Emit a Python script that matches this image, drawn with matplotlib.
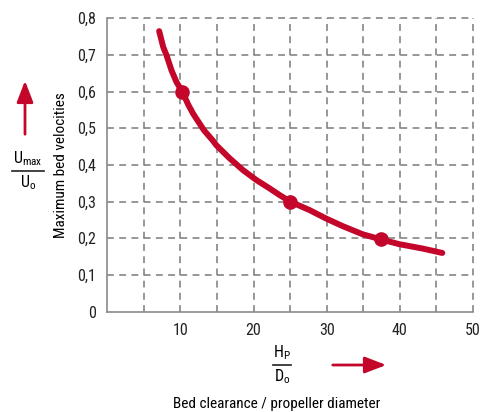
import matplotlib

matplotlib.use("Agg")
from matplotlib import pyplot as plt  # noqa: E402

# curve
clearance = [7.09, 7.64, 8.1, 8.78, 9.46, 10.28, 11.05, 11.73, 13.2,
             14.37, 14.9, 16.73, 18.55, 20.37, 22.19, 23.55, 25.0, 27.64,
             29.9, 32.2, 34.9, 37.4, 39.9, 43.1, 45.8]
velocity = [0.765, 0.722, 0.699, 0.658, 0.626, 0.599, 0.565, 0.540,
            0.495, 0.468, 0.454, 0.418, 0.386, 0.359, 0.336, 0.318, 0.30,
            0.277, 0.254, 0.233, 0.211, 0.197, 0.184, 0.172, 0.160]
point_x = [10.28, 25.0, 37.4]
point_y = [0.60, 0.30, 0.198]

x_ticks = [10, 20, 30, 40, 50]
x_grid = [5, 10, 15, 20, 25, 30, 35, 40, 45, 50]
y_ticks = [0, 0.1, 0.2, 0.3, 0.4, 0.5, 0.6, 0.7, 0.8]
y_labels = ["0", "0,1", "0,2", "0,3", "0,4", "0,5", "0,6", "0,7", "0,8"]

RED = "#c4062b"
GRID = "#7a7a7a"
plt.rcParams["font.family"] = ["Roboto Condensed", "Liberation Sans Narrow",
                               "Roboto", "DejaVu Sans"]
FS = 11.5

W, H = 495, 412
fig = plt.figure(figsize=(W / 100, H / 100), dpi=100)
ax = fig.add_axes([107.3 / W, 100.4 / H, 365.7 / W, 293.3 / H])

ax.plot(clearance, velocity, color=RED, lw=4.3, solid_capstyle="round",
        solid_joinstyle="round", zorder=3)
ax.plot(point_x, point_y, "o", color=RED, ms=9.5, zorder=4)

ax.set_xlim(0, 50)
ax.set_ylim(0, 0.8)
ax.set_xticks(x_ticks)
ax.set_yticks(y_ticks)
ax.set_yticklabels(y_labels)
ax.tick_params(which="both", length=0, labelsize=FS, colors="#222222")
ax.tick_params(axis="x", pad=8)
ax.tick_params(axis="y", pad=8)

# dashed grid, including the top and right edges
dash = (0, (4.5, 3.5))
for gx in x_grid:
    ax.axvline(gx, color=GRID, lw=1.1, linestyle=dash, clip_on=False, zorder=1)
for gy in y_ticks[1:]:
    ax.axhline(gy, color=GRID, lw=1.1, linestyle=dash, clip_on=False, zorder=1)
ax.spines["top"].set_visible(False)
ax.spines["right"].set_visible(False)
for side in ("left", "bottom"):
    ax.spines[side].set_color("#8a8a8a")
    ax.spines[side].set_linewidth(1.2)

ax.set_ylabel("Maximum bed velocities", fontsize=11)
ax.yaxis.set_label_coords(-0.108, 0.5)
fig.text(277 / W, 1 - 404 / H, "Bed clearance / propeller diameter",
         ha="center", va="center", fontsize=11)


# fraction symbols and arrows
def fraction(xc, yc, top, bottom, half):
    fig.text(xc / W, 1 - (yc - 12) / H, top, ha="center", va="center", fontsize=FS)
    fig.text(xc / W, 1 - (yc + 12) / H, bottom, ha="center", va="center", fontsize=FS)
    fig.add_artist(plt.Line2D([(xc - half) / W, (xc + half) / W],
                              [1 - yc / H, 1 - yc / H], color="#222222", lw=1.2))


fraction(28, 171, r"$\mathregular{U_{max}}$", r"$\mathregular{U_{o}}$", 16)
fraction(282, 365, r"$\mathregular{H_{P}}$", r"$\mathregular{D_{o}}$", 9)

arrow = dict(arrowstyle="-|>,head_length=1.3,head_width=0.5", color=RED, lw=2)
ax.annotate("", xy=(25, H - 78), xytext=(25, H - 137),
            xycoords="figure pixels", arrowprops=arrow)
ax.annotate("", xy=(389, H - 365), xytext=(330, H - 365),
            xycoords="figure pixels", arrowprops=arrow)

plt.savefig("out.png", dpi=100)
